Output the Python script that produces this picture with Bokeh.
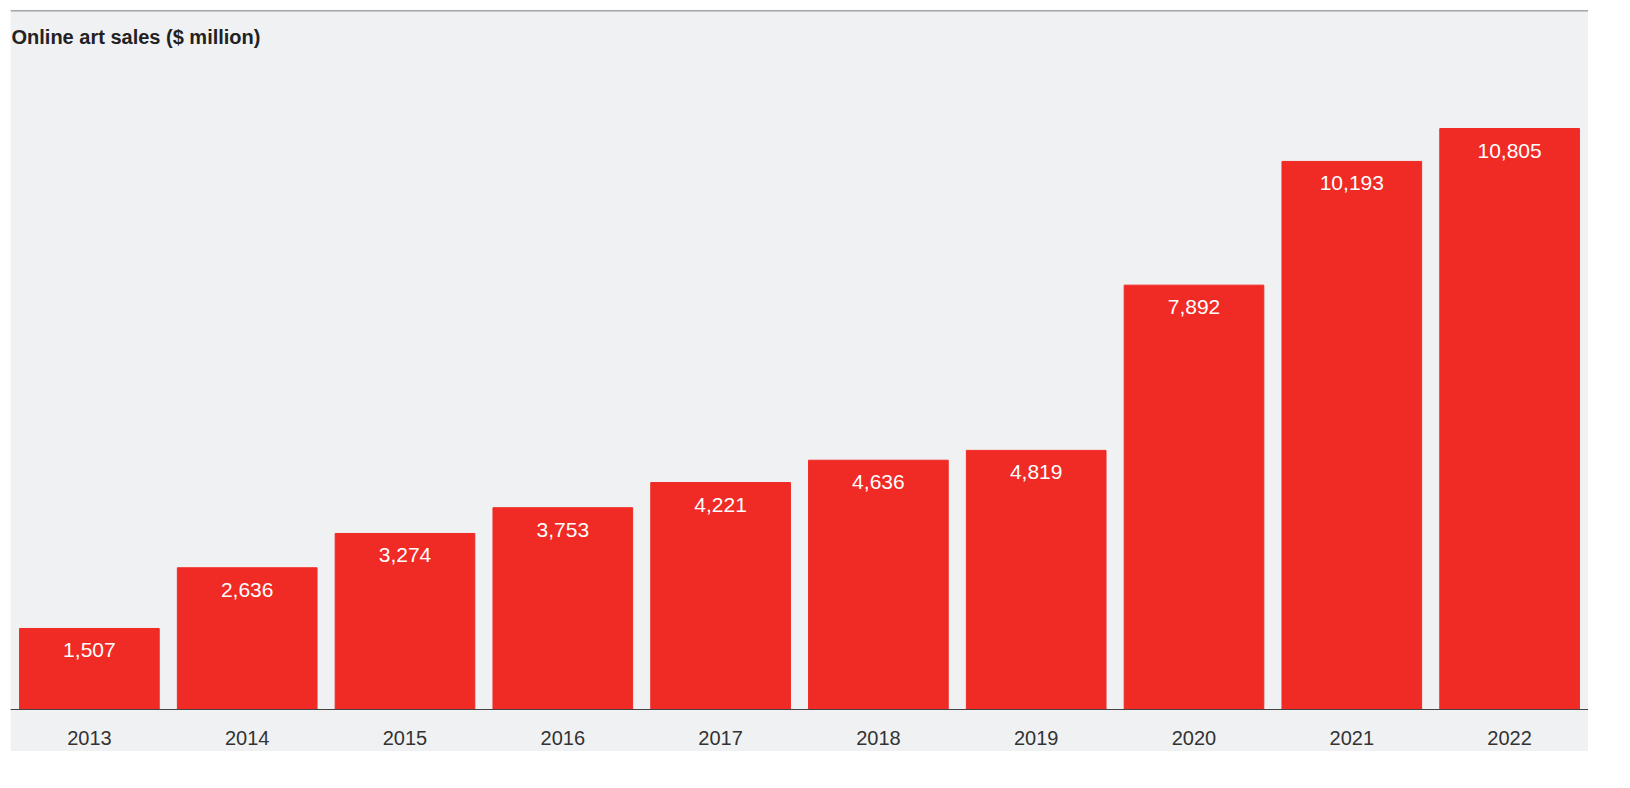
from bokeh.plotting import figure
from bokeh.models import ColumnDataSource, Label, Span, Range1d
from bokeh.embed import file_html
from bokeh.resources import INLINE
from bokeh.core.properties import value

years = ["2013","2014","2015","2016","2017","2018","2019","2020","2021","2022"]
sales = [1507, 2636, 3274, 3753, 4221, 4636, 4819, 7892, 10193, 10805]
labels = [f"{v:,}" for v in sales]

src = ColumnDataSource(dict(x=years, top=sales, lab=labels))
BG = "#f0f1f3"
YMAX = 13000
p = figure(x_range=years, y_range=Range1d(0, YMAX), width=1578, height=741,
           output_backend="svg", toolbar_location=None, margin=(10, 0, 0, 10),
           min_border_top=0, min_border_left=0, min_border_right=0, min_border_bottom=42)
p.x_range.range_padding = 0
p.background_fill_color = BG
p.border_fill_color = BG
p.outline_line_color = None
p.grid.visible = False
p.yaxis.visible = False
p.vbar(x="x", top="top", width=0.885, source=src, color="#f02a24")
p.text(x="x", y="top", text="lab", source=src, y_offset=15, text_color="white",
       text_font=value("Liberation Sans"), text_font_size="21px",
       text_align="center", text_baseline="top")
p.xaxis.axis_line_color = "#444444"
p.xaxis.major_tick_line_color = None
p.xaxis.minor_tick_line_color = None
p.xaxis.major_label_text_font = "Liberation Sans"
p.xaxis.major_label_text_font_size = "20px"
p.xaxis.major_label_text_color = "#333333"
p.xaxis.major_label_standoff = 15
p.add_layout(Span(location=YMAX, dimension="width", line_color="#555555", line_width=1.5))
p.add_layout(Label(x=1, y=673, x_units="screen", y_units="screen",
                   text="Online art sales ($ million)", text_font="Liberation Sans",
                   text_font_style="bold", text_font_size="20px", text_color="#222222",
                   text_baseline="middle"))
open("out.html", "w").write(file_html(p, INLINE))
